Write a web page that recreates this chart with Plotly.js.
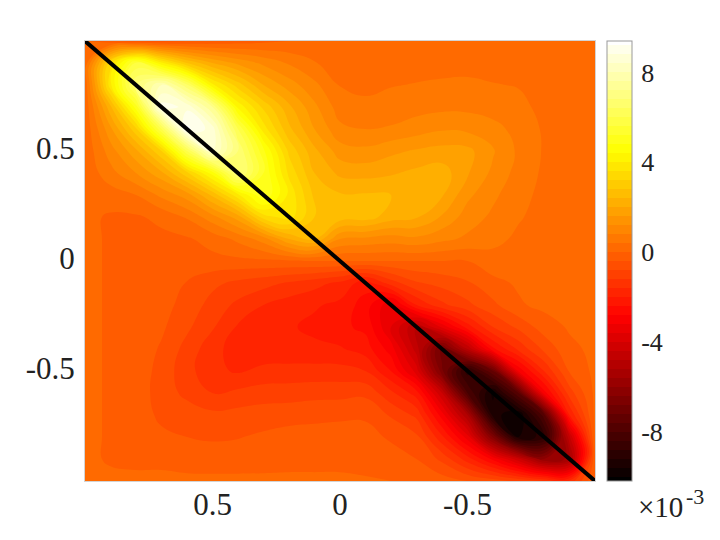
<!DOCTYPE html>
<html><head><meta charset="utf-8"><script src="https://cdn.plot.ly/plotly-3.0.1.min.js"></script>
<style>html,body{margin:0;padding:0;background:#fff}</style></head><body>
<div id="c" style="width:720px;height:540px"></div>
<script>
const xs=[1,.9,.8,.7,.6,.5,.4,.3,.2,.1,0,-.1,-.2,-.3,-.4,-.5,-.6,-.7,-.8,-.9,-1];
const ys=[1,.9,.8,.7,.6,.5,.4,.3,.2,.1,0,-.1,-.2,-.3,-.4,-.5,-.6,-.7,-.8,-.9,-1];
const r00=[0,-.3,-.5,-.5,-.4,-.3,-.2,-.1,0,.1,.1,.1,.1,.1,.1,.1,.1,.1,.1,.1,.1];
const r01=[.1,3.5,5.7,4.1,2.8,2,1.5,1.1,.75,.42,.27,.25,.25,.25,.28,.28,.25,.2,.15,.12,.1];
const r02=[.1,3.9,6.8,8,6.5,4.1,3,2,1.4,.9,.38,.3,.38,.42,.45,.47,.42,.38,.25,.18,.1];
const r03=[.1,2.3,5,9,8.7,7.2,4.3,3.1,2.1,1.3,.6,.5,.55,.65,.7,.7,.6,.5,.3,.2,.1];
const r04=[.1,1.5,3.1,6,9.3,8.6,6,3.8,2.5,1.6,.9,.8,.85,1.0,1.15,1.1,.95,.65,.35,.2,.1];
const r05=[.1,1.0,1.9,3.2,6,8.5,6.8,4.9,3.1,2.1,1.4,1.3,1.5,1.65,1.75,1.72,1.25,.72,.36,.2,.1];
const r06=[.1,.65,1.2,1.9,3.1,4.6,7,5.2,3.5,2.4,1.9,1.85,1.95,2.1,2.2,1.65,1.1,.65,.33,.2,.1];
const r07=[.1,.2,.4,.9,1.4,2.5,3.9,5.2,3.9,2.7,2.45,2.45,2.4,2.3,2.05,1.3,.88,.55,.28,.18,.1];
const r08=[.1,-.05,-.05,.1,.45,1.05,1.8,3.4,3.8,2.8,2.65,2.6,2.2,2.05,1.55,1.0,.72,.45,.22,.15,.1];
const r09=[.1,-.05,-.1,-.1,-.05,.15,.5,1.0,2.0,2.4,1.2,1.1,1.0,1.1,.9,.72,.55,.3,.2,.12,.1];
const r10=[.1,-.05,-.15,-.15,-.15,-.12,-.1,-.08,-.05,0,0,0,0,0,0,0,.2,.33,.28,.18,.1];
const r11=[.1,-.05,-.15,-.2,-.42,-.7,-.9,-1.05,-1.25,-1.45,-1.7,-2.2,-1.4,-.85,-.65,-.45,-.1,.05,.15,.2,.1];
const r12=[.1,-.05,-.15,-.25,-.55,-.95,-1.3,-1.6,-1.8,-1.95,-2.1,-2.6,-3.5,-2.0,-1.3,-.9,-.5,-.05,.1,.15,.1];
const r13=[.1,-.05,-.15,-.33,-.72,-1.15,-1.65,-1.85,-1.95,-2.1,-2.3,-2.5,-3.6,-4.8,-3.5,-2.2,-1.2,-.7,-.2,.05,.1];
const r14=[.1,-.05,-.15,-.45,-.95,-1.45,-1.8,-1.85,-1.9,-1.9,-1.95,-2.2,-3,-4.6,-7,-4.8,-2.5,-1.5,-.7,-.1,.1];
const r15=[.1,-.05,-.15,-.55,-1.05,-1.5,-1.65,-1.5,-1.45,-1.45,-1.45,-1.6,-2.4,-3.8,-6.7,-9,-7.2,-3.1,-1.6,-.35,.1];
const r16=[.1,-.05,-.15,-.6,-.9,-1.2,-1.1,-1,-1,-.95,-.95,-.9,-1.5,-2.2,-4.4,-8,-9.7,-7.6,-3,-1,.1];
const r17=[.1,-.05,-.15,-.5,-.6,-.7,-.65,-.6,-.55,-.5,-.45,-.45,-.85,-1.3,-3,-5.2,-9.4,-10,-7.8,-2,.1];
const r18=[.1,-.05,-.15,-.3,-.4,-.45,-.42,-.33,-.25,-.25,-.28,-.28,-.45,-.7,-1.9,-3.4,-6.5,-9.6,-9,-4.5,.1];
const r19=[.1,-.05,-.1,-.1,-.18,-.2,-.2,-.18,-.15,-.15,-.15,-.17,-.25,-.4,-.9,-1.8,-2.9,-4.3,-6,-5.5,0];
const r20=[.1,.1,.1,.1,.1,.1,.1,.1,.1,.1,.1,.05,0,-.1,-.2,-.4,-.6,-.9,-1.2,-1.5,0];
const zRows=[r00,r01,r02,r03,r04,r05,r06,r07,r08,r09,r10,r11,r12,r13,r14,r15,r16,r17,r18,r19,r20];
const diagX=[1,-1], diagY=[1,-1];
const cbVals=[8,4,0,-4,-8], cbText=['8','4','0','-4','-8'];
const axVals=[.5,0,-.5], axText=['0.5','0','-0.5'];
const zLo=-10.07, zHi=9.4;
const F='"Liberation Serif",serif';
const hot=[[0,'#000000'],[.375,'#ff0000'],[.75,'#ffff00'],[1,'#ffffff']];
const frame='rgba(130,130,130,.35)';
const cbTickShapes=cbVals.map(v=>({type:'line',xref:'paper',yref:'paper',x0:1.0627,x1:1.0725,y0:(v-zLo)/(zHi-zLo),y1:(v-zLo)/(zHi-zLo),line:{color:'#777',width:1}}));
Plotly.newPlot('c',[
 {type:'contour',x:xs,y:ys,z:zRows,zmin:zLo,zmax:zHi,colorscale:hot,
  contours:{coloring:'fill',start:-10,end:9.2,size:.4,showlines:false},
  line:{width:0,smoothing:1.3},hoverinfo:'skip',
  colorbar:{x:1.0235,xanchor:'left',y:1,yanchor:'top',len:440,lenmode:'pixels',thickness:25,thicknessmode:'pixels',
   xpad:0,ypad:0,outlinecolor:'#999',outlinewidth:1,ticks:'outside',ticklen:4,tickcolor:'rgba(0,0,0,0)',
   tickmode:'array',tickvals:cbVals,ticktext:cbText,tickfont:{family:F,size:26,color:'#222'}}},
 {type:'scatter',mode:'lines',x:diagX,y:diagY,line:{color:'#000',width:4},hoverinfo:'skip',showlegend:false,cliponaxis:false}
],{width:720,height:540,margin:{l:85,r:125,t:41,b:59},paper_bgcolor:'#fff',plot_bgcolor:'#fff',showlegend:false,shapes:cbTickShapes,
 xaxis:{range:[1,-1],tickmode:'array',tickvals:axVals,ticktext:axText,ticks:'',ticklabelstandoff:-4,showgrid:false,zeroline:false,showline:true,mirror:true,linecolor:frame,linewidth:1,tickfont:{family:F,size:31,color:'#222'}},
 yaxis:{range:[-1,1],tickmode:'array',tickvals:axVals,ticktext:axText,ticks:'',ticklabelstandoff:3,ticklabelshift:-3,showgrid:false,zeroline:false,showline:true,mirror:true,linecolor:frame,linewidth:1,tickfont:{family:F,size:31,color:'#222'}},
 annotations:[
  {xref:'paper',yref:'paper',x:1.0824,y:-0.059,xanchor:'left',yanchor:'middle',showarrow:false,borderpad:0,text:'×10',font:{family:F,size:29,color:'#222'}},
  {xref:'paper',yref:'paper',x:1.1765,y:-0.036,xanchor:'left',yanchor:'middle',showarrow:false,borderpad:0,text:'-3',font:{family:F,size:22,color:'#222'}}
 ]
},{displayModeBar:false,staticPlot:true});
</script></body></html>
